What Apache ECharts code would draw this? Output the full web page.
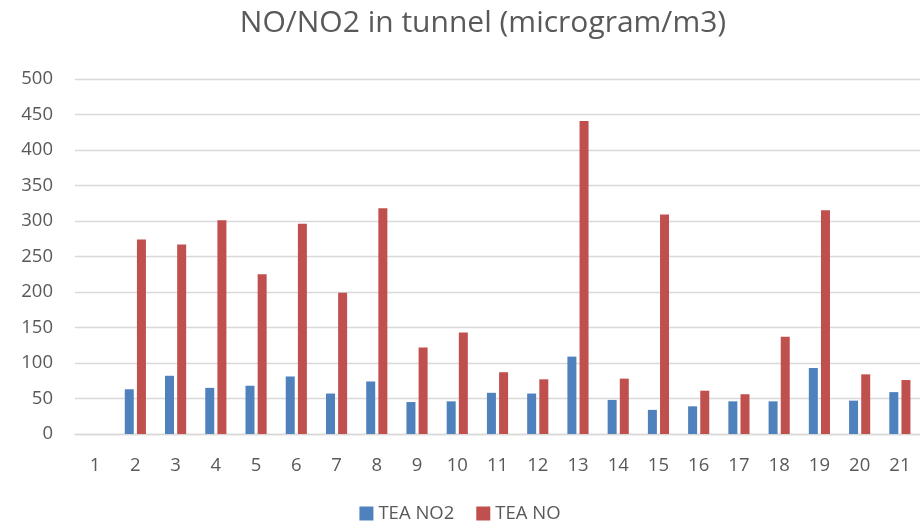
<!DOCTYPE html>
<html><head><meta charset="utf-8">
<script src="https://cdn.jsdelivr.net/npm/echarts@6/dist/echarts.min.js"></script>
<style>html,body{margin:0;padding:0;background:#fff}#c{width:920px;height:528px}</style>
</head><body><div id="c"></div>
<script>
var categories = ['1','2','3','4','5','6','7','8','9','10','11','12','13','14','15','16','17','18','19','20','21'];
var teaNO2 = [null,63,82,65,68,81,57,74,45,46,58,57,109,48,34,39,46,46,93,47,59];
var teaNO = [null,274,267,301,225,296,199,318,122,143,87,77,441,78,309,61,56,137,315,84,76];
var yTicks = [0,50,100,150,200,250,300,350,400,450,500];

var chart = echarts.init(document.getElementById('c'));
var font = 'Open Sans';
chart.setOption({
  animation: false,
  title: {text: 'NO/NO2 in tunnel (microgram/m3)', left: 478, top: 3, textAlign: 'center',
    textStyle: {fontFamily: font, fontSize: 30, fontWeight: 'normal', color: '#595959'}},
  legend: {bottom: 0, left: 'center', itemWidth: 14, itemHeight: 14, itemGap: 22,
    icon: 'rect', textStyle: {fontFamily: font, fontSize: 18.5, color: '#595959'},
    data: ['TEA NO2','TEA NO']},
  grid: {left: 75, top: 79, width: 855, height: 355},
  xAxis: {type: 'category', data: categories,
    axisLine: {lineStyle: {color: '#D9D9D9', width: 1.3}},
    axisTick: {show: false},
    axisLabel: {fontFamily: font, fontSize: 18.5, color: '#595959', margin: 22}},
  yAxis: {type: 'value', min: yTicks[0], max: yTicks[yTicks.length-1], interval: 50,
    axisLine: {show: false}, axisTick: {show: false},
    splitLine: {lineStyle: {color: '#D9D9D9', width: 1.3}},
    axisLabel: {fontFamily: font, fontSize: 18.5, color: '#595959', margin: 22}},
  series: [
    {name: 'TEA NO2', type: 'bar', data: teaNO2, barWidth: 9, barGap: '35%',
      itemStyle: {color: '#4F81BD'}},
    {name: 'TEA NO', type: 'bar', data: teaNO, barWidth: 9,
      itemStyle: {color: '#C0504D'}}
  ]
});
</script></body></html>
